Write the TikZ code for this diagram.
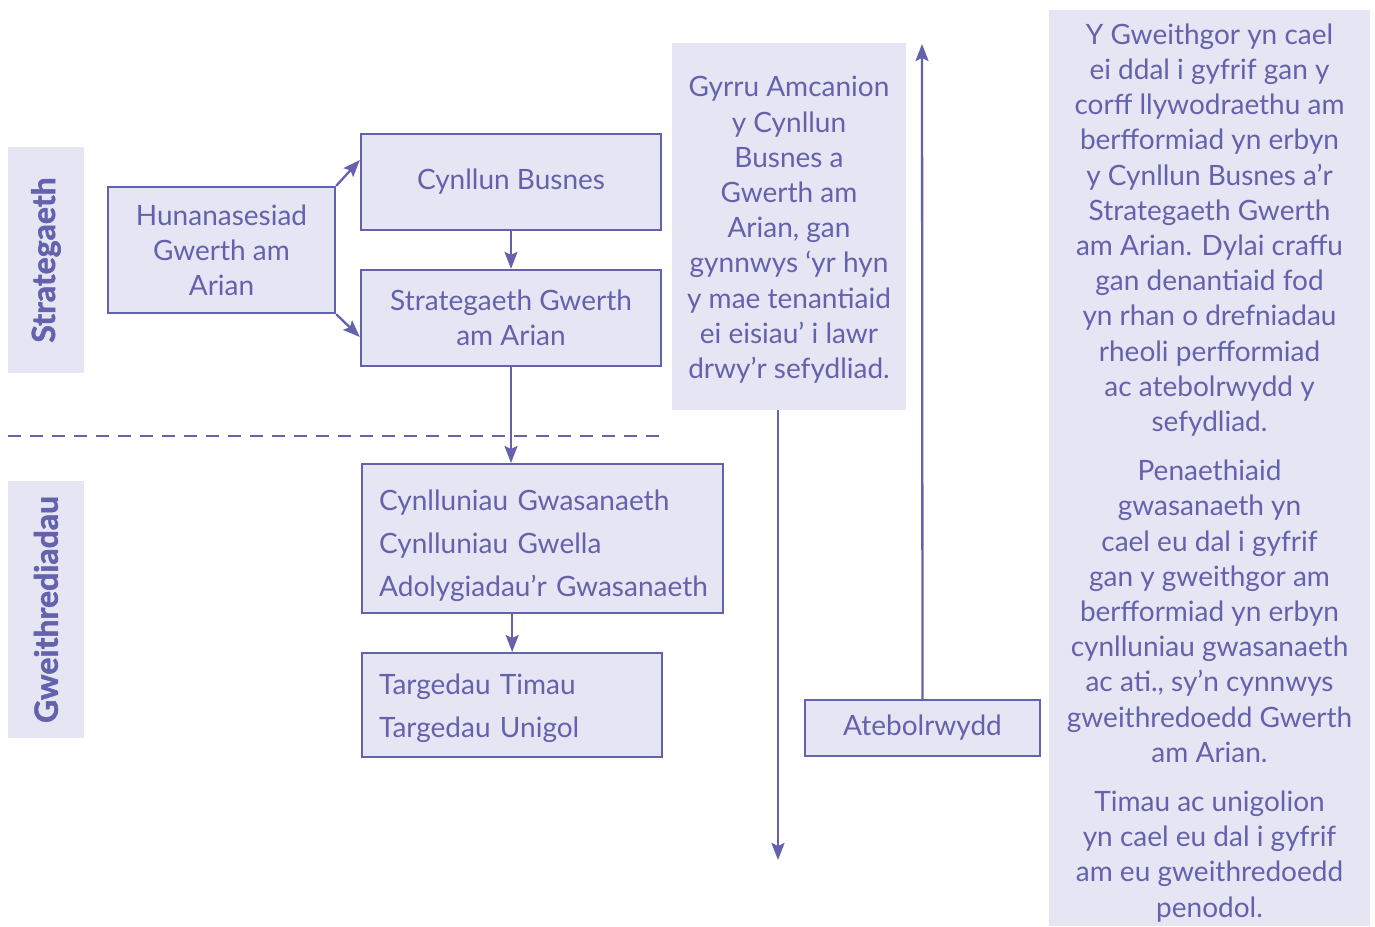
\documentclass[tikz,border=0pt]{standalone}
\usepackage{fontspec}
\setmainfont{Lato}
\newfontfamily\heavyfont[UprightFont={* Bold}, FakeBold=1.6]{Lato}
\usetikzlibrary{arrows.meta}
\definecolor{boxfill}{HTML}{E6E5F4}
\definecolor{ink}{HTML}{6462AC}
\tikzset{
    box/.style = {draw=ink, fill=boxfill, line width=2.3pt, text=ink, align=center, inner sep=0pt},
    panel/.style = {fill=boxfill, draw=none, text=ink, align=center, inner sep=0pt},
    band/.style = {fill=boxfill, draw=none, text=ink, rotate=90, inner sep=0pt,
        font=\heavyfont\fontsize{32}{36}\selectfont},
    link/.style = {draw=ink, line width=2.3pt, -{Stealth[length=17pt,width=13pt,inset=3pt]}},
}

\begin{document}
\begin{tikzpicture}[x=1pt, y=-1pt, font=\fontsize{28}{35.2}\selectfont]
    \useasboundingbox (0,0) rectangle (1375,926);

    % side bands
    \node[band, minimum width=226, minimum height=76] (bandS) at (46,260) {Strategaeth};
    \node[band, minimum width=257, minimum height=76] (bandG) at (46,609.5) {Gweithrediadau};

    % strategy boxes
    \node[box, minimum width=227, minimum height=126] (hunan) at (221.5,250)
        {Hunanasesiad\\Gwerth am\\Arian};
    \node[box, minimum width=300, minimum height=96] (busnes) at (511,182) {Cynllun Busnes};
    \node[box, minimum width=300, minimum height=96] (strat) at (511,318)
        {Strategaeth Gwerth\\am Arian};

    % operations boxes
    \node[box, align=left, anchor=north west, minimum width=361, minimum height=149,
        inner xsep=17pt, text width=327pt] (gwas) at (361,463)
        {\rule{0pt}{34pt}Cynlluniau Gwasanaeth\\[7.8pt]Cynlluniau Gwella\\[7.8pt]\mbox{Adolygiadau’r Gwasanaeth}};
    \node[box, align=left, anchor=north west, minimum width=300, minimum height=104,
        inner xsep=17pt, text width=266pt] (targ) at (361,652)
        {\rule{0pt}{26pt}Targedau Timau\\[7.8pt]Targedau Unigol};

    % accountability column
    \node[panel, minimum width=234, minimum height=367] (gyrru) at (789,226.5)
        {\rule{0pt}{27pt}Gyrru Amcanion\\y Cynllun\\Busnes a\\Gwerth am\\Arian, gan\\gynnwys ‘yr hyn\\y mae tenantiaid\\ei eisiau’ i lawr\\drwy’r sefydliad.};
    \node[box, minimum width=235, minimum height=56] (ateb) at (922.5,728) {Atebolrwydd};

    \node[panel, minimum width=321, minimum height=916] (notes) at (1209.5,468)
        {\rule{0pt}{30pt}Y Gweithgor yn cael\\ei ddal i gyfrif gan y\\corff llywodraethu am\\berfformiad yn erbyn\\y Cynllun Busnes a’r\\Strategaeth Gwerth\\am Arian. Dylai craffu\\gan denantiaid fod\\yn rhan o drefniadau\\rheoli perfformiad\\ac atebolrwydd y\\sefydliad.\\[14pt]
        Penaethiaid\\gwasanaeth yn\\cael eu dal i gyfrif\\gan y gweithgor am\\berfformiad yn erbyn\\cynlluniau gwasanaeth\\ac ati., sy’n cynnwys\\gweithredoedd Gwerth\\am Arian.\\[14pt]
        Timau ac unigolion\\yn cael eu dal i gyfrif\\am eu gweithredoedd\\penodol.};

    \coordinate(dashL) at (8,436);
    \coordinate(dashR) at (660,436);
    \coordinate(downS) at (778,410);
    \coordinate(downN) at (778,860);
    \coordinate(upN) at (922,44);

    \draw[ink, line width=2pt, dash pattern=on 13pt off 9pt] (dashL) -- (dashR);

    \draw[link] (hunan.north east) -- ([yshift=22pt]busnes.west);
    \draw[link] (hunan.south east) -- ([yshift=-19pt]strat.west);
    \draw[link] (busnes.south) -- (strat.north);
    \draw[link] (strat.south) -- (strat.south |- gwas.north);
    \draw[link] (targ.north |- gwas.south) -- (targ.north);
    \draw[link] (downS) -- (downN);
    \draw[link] (ateb.north) -- (upN);

\end{tikzpicture}
\end{document}
